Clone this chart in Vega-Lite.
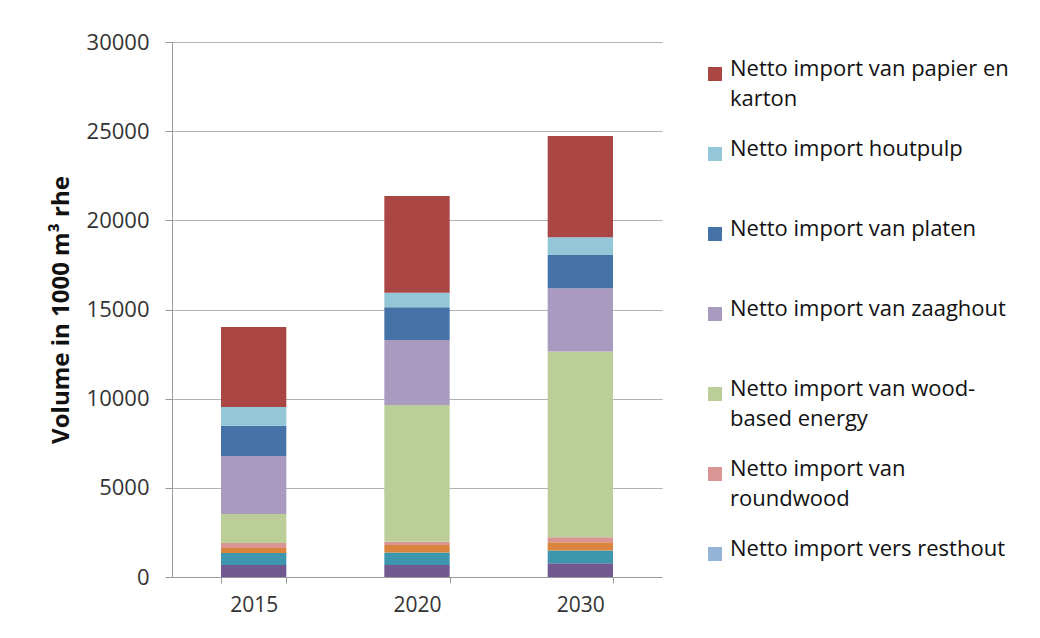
{
  "$schema": "https://vega.github.io/schema/vega-lite/v6.json",
  "width": 490,
  "height": 535,
  "autosize": {"type": "none"},
  "padding": {"left": 172, "top": 42, "right": 378, "bottom": 61},
  "background": "white",
  "data": {
    "values": [
      {"jaar": "2015", "serie": "Overig A", "ord": 1, "waarde": 670},
      {"jaar": "2015", "serie": "Overig B", "ord": 2, "waarde": 670},
      {"jaar": "2015", "serie": "Overig C", "ord": 3, "waarde": 280},
      {"jaar": "2015", "serie": "Netto import vers resthout", "ord": 4, "waarde": 0},
      {"jaar": "2015", "serie": "Netto import van roundwood", "ord": 5, "waarde": 280},
      {"jaar": "2015", "serie": "Netto import van wood-based energy", "ord": 6, "waarde": 1630},
      {"jaar": "2015", "serie": "Netto import van zaaghout", "ord": 7, "waarde": 3250},
      {"jaar": "2015", "serie": "Netto import van platen", "ord": 8, "waarde": 1700},
      {"jaar": "2015", "serie": "Netto import houtpulp", "ord": 9, "waarde": 1050},
      {"jaar": "2015", "serie": "Netto import van papier en karton", "ord": 10, "waarde": 4490},
      {"jaar": "2020", "serie": "Overig A", "ord": 1, "waarde": 670},
      {"jaar": "2020", "serie": "Overig B", "ord": 2, "waarde": 710},
      {"jaar": "2020", "serie": "Overig C", "ord": 3, "waarde": 410},
      {"jaar": "2020", "serie": "Netto import vers resthout", "ord": 4, "waarde": 0},
      {"jaar": "2020", "serie": "Netto import van roundwood", "ord": 5, "waarde": 190},
      {"jaar": "2020", "serie": "Netto import van wood-based energy", "ord": 6, "waarde": 7665},
      {"jaar": "2020", "serie": "Netto import van zaaghout", "ord": 7, "waarde": 3645},
      {"jaar": "2020", "serie": "Netto import van platen", "ord": 8, "waarde": 1833},
      {"jaar": "2020", "serie": "Netto import houtpulp", "ord": 9, "waarde": 820},
      {"jaar": "2020", "serie": "Netto import van papier en karton", "ord": 10, "waarde": 5422},
      {"jaar": "2030", "serie": "Overig A", "ord": 1, "waarde": 770},
      {"jaar": "2030", "serie": "Overig B", "ord": 2, "waarde": 710},
      {"jaar": "2030", "serie": "Overig C", "ord": 3, "waarde": 470},
      {"jaar": "2030", "serie": "Netto import vers resthout", "ord": 4, "waarde": 0},
      {"jaar": "2030", "serie": "Netto import van roundwood", "ord": 5, "waarde": 280},
      {"jaar": "2030", "serie": "Netto import van wood-based energy", "ord": 6, "waarde": 10408},
      {"jaar": "2030", "serie": "Netto import van zaaghout", "ord": 7, "waarde": 3555},
      {"jaar": "2030", "serie": "Netto import van platen", "ord": 8, "waarde": 1867},
      {"jaar": "2030", "serie": "Netto import houtpulp", "ord": 9, "waarde": 993},
      {"jaar": "2030", "serie": "Netto import van papier en karton", "ord": 10, "waarde": 5680}
    ]
  },
  "mark": {"type": "bar"},
  "encoding": {
    "x": {
      "field": "jaar",
      "type": "nominal",
      "scale": {"paddingInner": 0.6, "paddingOuter": 0.3},
      "axis": {
        "title": null,
        "labelAngle": 0,
        "labelFont": "Open Sans",
        "labelFontSize": 21,
        "labelColor": "#333333",
        "labelPadding": 11,
        "tickBand": "extent",
        "tickSize": 6,
        "tickColor": "#999999",
        "domainColor": "#999999",
        "grid": false
      }
    },
    "y": {
      "field": "waarde",
      "type": "quantitative",
      "stack": "zero",
      "scale": {"domain": [0, 30000], "nice": false},
      "axis": {
        "title": "Volume in 1000 m³ rhe",
        "titleFont": "Open Sans",
        "titleFontSize": 24,
        "titleFontWeight": "bold",
        "titleColor": "#111111",
        "titlePadding": 13,
        "values": [0, 5000, 10000, 15000, 20000, 25000, 30000],
        "format": "d",
        "labelFont": "Open Sans",
        "labelFontSize": 22,
        "labelColor": "#333333",
        "labelPadding": 16,
        "tickSize": 7,
        "tickColor": "#999999",
        "domainColor": "#999999",
        "gridColor": "#B3B3B3",
        "gridWidth": 1
      }
    },
    "color": {
      "field": "serie",
      "type": "nominal",
      "scale": {
        "domain": [
          "Netto import van papier en karton",
          "Netto import houtpulp",
          "Netto import van platen",
          "Netto import van zaaghout",
          "Netto import van wood-based energy",
          "Netto import van roundwood",
          "Netto import vers resthout",
          "Overig C",
          "Overig B",
          "Overig A"
        ],
        "range": ["#AA4643", "#93C6D6", "#4572A7", "#A99BC0", "#BBCE98", "#D99694", "#95B3D7", "#DB843D", "#3D96AE", "#71588F"]
      },
      "legend": {
        "title": null,
        "orient": "none",
        "legendX": 532,
        "legendY": 21,
        "values": [
          "Netto import van papier en karton",
          "Netto import houtpulp",
          "Netto import van platen",
          "Netto import van zaaghout",
          "Netto import van wood-based energy",
          "Netto import van roundwood",
          "Netto import vers resthout"
        ],
        "labelExpr": "datum.label == 'Netto import van papier en karton' ? ['Netto import van papier en', 'karton'] : datum.label == 'Netto import van wood-based energy' ? ['Netto import van wood-', 'based energy'] : datum.label == 'Netto import van roundwood' ? ['Netto import van', 'roundwood'] : [datum.label, ' ']",
        "labelFont": "Open Sans",
        "labelFontSize": 22,
        "labelColor": "#111111",
        "labelLimit": 400,
        "labelBaseline": "top",
        "symbolType": "square",
        "symbolSize": 196,
        "symbolStrokeWidth": 0,
        "labelOffset": 4,
        "rowPadding": 28,
        "encode": {
          "labels": {"update": {"lineHeight": {"value": 30}, "dy": {"value": -15}}}
        }
      }
    },
    "order": {"field": "ord", "type": "quantitative"}
  },
  "config": {
    "view": {"stroke": null},
    "axis": {"domainWidth": 1, "tickWidth": 1}
  }
}
